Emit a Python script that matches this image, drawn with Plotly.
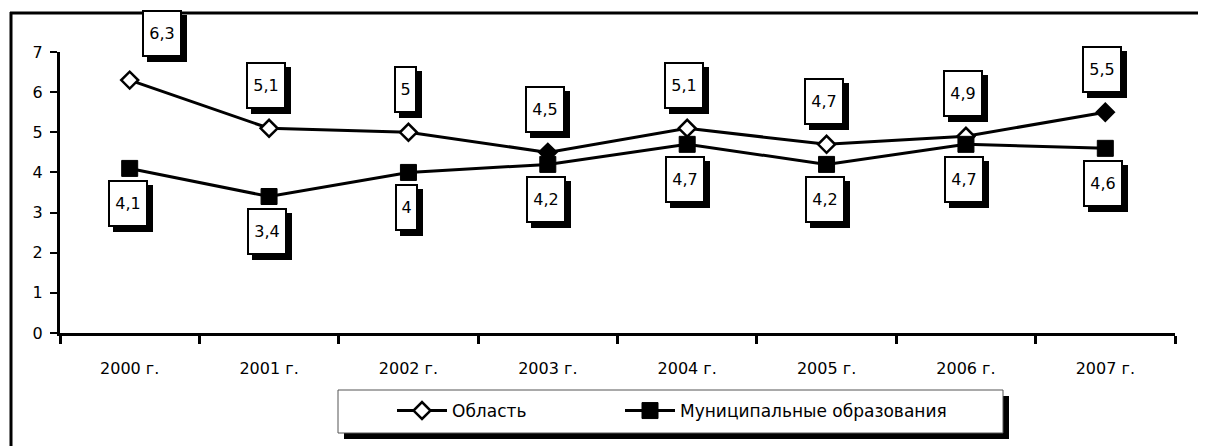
import plotly.graph_objects as go

# ---- data ----
years = ["2000 г.", "2001 г.", "2002 г.", "2003 г.", "2004 г.", "2005 г.", "2006 г.", "2007 г."]
oblast = [6.3, 5.1, 5.0, 4.5, 5.1, 4.7, 4.9, 5.5]
munic = [4.1, 3.4, 4.0, 4.2, 4.7, 4.2, 4.7, 4.6]
oblast_labels = ["6,3", "5,1", "5", "4,5", "5,1", "4,7", "4,9", "5,5"]
munic_labels = ["4,1", "3,4", "4", "4,2", "4,7", "4,2", "4,7", "4,6"]
series_names = ["Область", "Муниципальные образования"]

# ---- style ----
FONT = "DejaVu Sans"
OFF = 8  # page body margin
W, H = 1206 - OFF, 446 - OFF
ML, MT = 60 - OFF, 52 - OFF
MR = W - (1175 - OFF)
MB = H - (333 - OFF)
PW, PH = W - ML - MR, H - MT - MB
oblast_fill = ["white", "white", "white", "black", "white", "white", "white", "black"]


def px_x(p):  # page pixel -> paper
    return (p - OFF - ML) / PW


def px_y(p):
    return (H - MB - (p - OFF)) / PH


fig = go.Figure()
fig.add_trace(go.Scatter(
    x=years, y=oblast, name=series_names[0], mode="lines+markers",
    line=dict(color="black", width=3),
    marker=dict(symbol="diamond", size=13, color=oblast_fill,
                line=dict(color="black", width=2.5)),
    legend="legend", hoverinfo="skip"))
fig.add_trace(go.Scatter(
    x=years, y=munic, name=series_names[1], mode="lines+markers",
    line=dict(color="black", width=3),
    marker=dict(symbol="square", size=16, color="black",
                line=dict(color="black", width=1)),
    legend="legend2", hoverinfo="skip"))

anns = []


def add_label(x, y, text, dx, dy):
    w = 36 if len(text) > 1 else 19
    common = dict(x=x, y=y, xref="x", yref="y", showarrow=False, width=w, height=43,
                  font=dict(family=FONT, size=16, color="black"),
                  borderwidth=2, borderpad=0, bordercolor="black")
    anns.append(dict(common, text=text, xshift=dx + 5, yshift=-dy - 5, bgcolor="black"))
    anns.append(dict(common, text=text, xshift=dx, yshift=-dy, bgcolor="white"))


for i, (yr, v, t) in enumerate(zip(years, oblast, oblast_labels)):
    if i == 0:
        add_label(yr, v, t, 32, -47)
    else:
        add_label(yr, v, t, -3, -43)
for yr, v, t in zip(years, munic, munic_labels):
    add_label(yr, v, t, -2, 35)

shapes = [
    # outer frame (left and top edges visible)
    dict(type="line", xref="paper", yref="paper", x0=px_x(11), x1=px_x(11),
         y0=px_y(12), y1=px_y(470), line=dict(color="black", width=3)),
    dict(type="line", xref="paper", yref="paper", x0=px_x(10), x1=px_x(1230),
         y0=px_y(13), y1=px_y(13), line=dict(color="black", width=3)),
    # legend shadow and box
    dict(type="rect", xref="paper", yref="paper", x0=px_x(344), x1=px_x(1009),
         y0=px_y(396), y1=px_y(439), fillcolor="black", line=dict(width=0)),
    dict(type="rect", xref="paper", yref="paper", x0=px_x(338), x1=px_x(1003),
         y0=px_y(390), y1=px_y(433), fillcolor="white", line=dict(color="#555", width=1)),
]

leg_common = dict(orientation="h", xanchor="left", yanchor="middle",
                  bgcolor="rgba(0,0,0,0)", borderwidth=0, itemwidth=50,
                  font=dict(family=FONT, size=17, color="black"))

fig.update_layout(
    width=W, height=H,
    margin=dict(l=ML, r=MR, t=MT, b=MB, pad=0),
    paper_bgcolor="white", plot_bgcolor="white",
    font=dict(family=FONT, size=16, color="black"),
    showlegend=True,
    legend=dict(leg_common, x=px_x(392), y=px_y(411)),
    legend2=dict(leg_common, x=px_x(620), y=px_y(411)),
    annotations=anns,
    shapes=shapes,
)
fig.update_xaxes(type="category", range=[-0.5, 7.5], tickson="boundaries",
                 ticks="outside", ticklen=8, tickwidth=3, tickcolor="black",
                 showline=True, linewidth=3, linecolor="black", showgrid=False,
                 ticklabelstandoff=19, tickfont=dict(family=FONT, size=16))
fig.update_yaxes(range=[0, 7], dtick=1, ticks="outside", ticklen=7, tickwidth=2,
                 tickcolor="black", showline=True, linewidth=3, linecolor="black",
                 showgrid=False, zeroline=False, ticklabelstandoff=4,
                 tickfont=dict(family=FONT, size=16))

fig.write_html("out.html")
